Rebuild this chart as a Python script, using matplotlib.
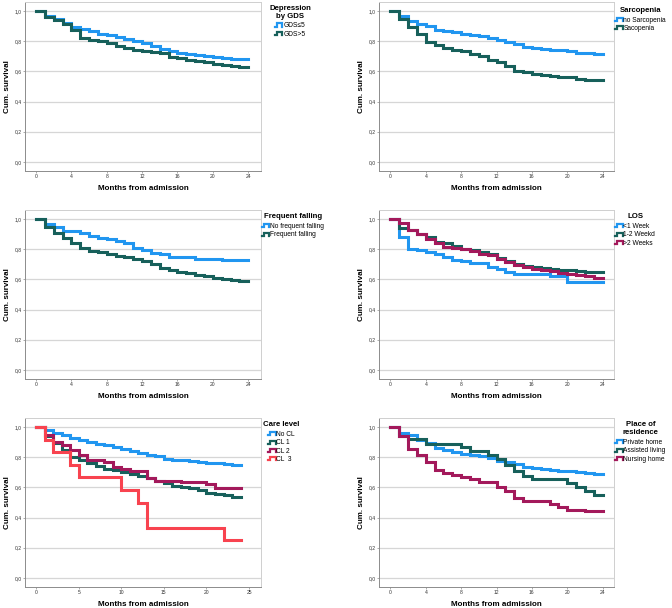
import numpy as np
import matplotlib

matplotlib.use("Agg")
import matplotlib.pyplot as plt
from matplotlib.legend_handler import HandlerBase
from matplotlib.lines import Line2D

plt.rcParams["font.family"] = ["Liberation Sans", "DejaVu Sans"]

# survival value held from month m to m+1 (m = 0..23), curves end at 24
gds_le5 = [1.0, 0.97, 0.945, 0.92, 0.895, 0.88, 0.865, 0.85, 0.84, 0.83, 0.815, 0.80,
           0.785, 0.77, 0.75, 0.735, 0.725, 0.717, 0.708, 0.70, 0.695, 0.688, 0.684, 0.684]
gds_gt5 = [1.0, 0.96, 0.94, 0.915, 0.875, 0.82, 0.81, 0.80, 0.79, 0.768, 0.757, 0.745,
           0.737, 0.726, 0.724, 0.697, 0.688, 0.678, 0.668, 0.66, 0.65, 0.64, 0.635, 0.63]

sarc_no = [1.0, 0.965, 0.934, 0.916, 0.90, 0.876, 0.865, 0.858, 0.85, 0.84, 0.832, 0.823,
           0.81, 0.795, 0.783, 0.76, 0.754, 0.748, 0.743, 0.74, 0.733, 0.724, 0.72, 0.717]
sarc_yes = [1.0, 0.95, 0.894, 0.85, 0.794, 0.772, 0.754, 0.745, 0.735, 0.717, 0.70, 0.677,
            0.66, 0.633, 0.606, 0.595, 0.584, 0.575, 0.57, 0.566, 0.56, 0.552, 0.546, 0.544]

fall_no = [1.0, 0.97, 0.95, 0.922, 0.922, 0.905, 0.89, 0.875, 0.865, 0.853, 0.838, 0.81,
           0.793, 0.776, 0.767, 0.75, 0.75, 0.75, 0.738, 0.738, 0.738, 0.73, 0.73, 0.73]
fall_yes = [1.0, 0.95, 0.91, 0.875, 0.838, 0.81, 0.79, 0.782, 0.77, 0.758, 0.75, 0.738,
            0.722, 0.70, 0.676, 0.66, 0.649, 0.64, 0.631, 0.62, 0.609, 0.602, 0.593, 0.589]

los_lt1 = [1.0, 0.882, 0.804, 0.793, 0.782, 0.77, 0.75, 0.73, 0.72, 0.71, 0.71, 0.682,
           0.667, 0.647, 0.633, 0.633, 0.633, 0.633, 0.62, 0.62, 0.582, 0.582, 0.582, 0.582]
los_1to2 = [1.0, 0.944, 0.93, 0.904, 0.878, 0.85, 0.838, 0.822, 0.804, 0.793, 0.782, 0.767,
            0.744, 0.722, 0.704, 0.689, 0.682, 0.676, 0.671, 0.664, 0.66, 0.656, 0.651, 0.651]
los_gt2 = [1.0, 0.976, 0.93, 0.90, 0.865, 0.838, 0.816, 0.81, 0.80, 0.787, 0.77, 0.76,
           0.738, 0.716, 0.693, 0.682, 0.671, 0.66, 0.653, 0.642, 0.633, 0.627, 0.62, 0.609]

care_none = [1.0, 0.978, 0.962, 0.945, 0.93, 0.912, 0.90, 0.89, 0.878, 0.867, 0.854, 0.84,
             0.828, 0.816, 0.805, 0.79, 0.783, 0.779, 0.772, 0.768, 0.763, 0.76, 0.754, 0.748]
care_cl1 = [1.0, 0.94, 0.895, 0.845, 0.80, 0.78, 0.76, 0.74, 0.723, 0.716, 0.705, 0.69,
            0.678, 0.66, 0.645, 0.628, 0.612, 0.60, 0.593, 0.583, 0.562, 0.558, 0.55, 0.537]
care_cl2 = [1.0, 0.945, 0.90, 0.878, 0.845, 0.812, 0.779, 0.779, 0.768, 0.735, 0.723, 0.712,
            0.712, 0.66, 0.645, 0.645, 0.645, 0.635, 0.635, 0.635, 0.62, 0.597, 0.597, 0.597]
care_cl3 = [1.0, 0.917, 0.833, 0.833, 0.75, 0.667, 0.667, 0.667, 0.667, 0.667, 0.583, 0.583,
            0.50, 0.333, 0.333, 0.333, 0.333, 0.333, 0.333, 0.333, 0.333, 0.333, 0.25, 0.25]

res_private = [1.0, 0.962, 0.945, 0.916, 0.894, 0.862, 0.845, 0.834, 0.822, 0.812, 0.805, 0.795,
               0.778, 0.767, 0.756, 0.738, 0.727, 0.72, 0.716, 0.712, 0.707, 0.70, 0.694, 0.688]
res_assisted = [1.0, 0.94, 0.92, 0.92, 0.89, 0.89, 0.89, 0.89, 0.868, 0.84, 0.84, 0.813,
                0.785, 0.748, 0.71, 0.674, 0.655, 0.655, 0.655, 0.655, 0.63, 0.60, 0.578, 0.55]
res_nursing = [1.0, 0.938, 0.856, 0.818, 0.767, 0.716, 0.694, 0.683, 0.672, 0.657, 0.633, 0.633,
               0.604, 0.573, 0.533, 0.51, 0.51, 0.51, 0.493, 0.467, 0.45, 0.45, 0.442, 0.442]

xticks_4 = [0, 4, 8, 12, 16, 20, 24]
xticks_5 = [0, 5, 10, 15, 20, 25]
yticks = [0.0, 0.2, 0.4, 0.6, 0.8, 1.0]

BLUE = "#2196F0"
TEAL = "#17605B"
MAROON = "#A3195B"
RED = "#F8434F"

W, H = 672, 608

# pixel boxes (left, top, right, bottom), legend anchor in axes coords
panels = [
    ((25, 2, 261, 171), "Depression\nby GDS", xticks_4, (-1.25, 25.45), (1.035, 0.985),
     [("GDS\u22645", gds_le5, BLUE), ("GDS>5", gds_gt5, TEAL)]),
    ((379, 2, 614, 171), "Sarcopenia", xticks_4, (-1.3, 25.3), (1.006, 0.97),
     [("no Sarcopenia", sarc_no, BLUE), ("Sacopenia", sarc_yes, TEAL)]),
    ((25, 210, 261, 379), "Frequent falling", xticks_4, (-1.25, 25.45), (1.004, 0.98),
     [("No frequent falling", fall_no, BLUE), ("Frequent falling", fall_yes, TEAL)]),
    ((379, 210, 614, 379), "LOS", xticks_4, (-1.3, 25.3), (1.006, 0.98),
     [("<1 Week", los_lt1, BLUE), ("1-2 Weekd", los_1to2, TEAL), (">2 Weeks", los_gt2, MAROON)]),
    ((25, 418, 261, 587), "Care level", xticks_5, (-1.3, 26.4), (1.01, 0.98),
     [("No CL", care_none, BLUE), ("CL 1", care_cl1, TEAL), ("CL 2", care_cl2, MAROON),
      ("CL  3", care_cl3, RED)]),
    ((379, 418, 614, 587), "Place of\nresidence", xticks_4, (-1.3, 25.3), (1.006, 0.98),
     [("Private home", res_private, BLUE), ("Assisted living", res_assisted, TEAL),
      ("Nursing home", res_nursing, MAROON)]),
]


class StepHandler(HandlerBase):
    def create_artists(self, legend, orig_handle, xdescent, ydescent, width, height, fontsize, trans):
        xs = np.array([0.0, 0.25, 0.25, 1.0, 1.0]) * width - xdescent
        ys = np.array([0.15, 0.15, 0.85, 0.85, 0.15]) * height - ydescent
        ln = Line2D(xs, ys, color=orig_handle.get_color(), lw=1.6, solid_joinstyle="miter")
        ln.set_transform(trans)
        return [ln]


fig = plt.figure(figsize=(W / 100, H / 100), dpi=100)

for box, title, xt, xl, anchor, series in panels:
    l, t, r, b = box
    ax = fig.add_axes([l / W, 1 - b / H, (r - l) / W, (b - t) / H])
    handles = []
    for lab, vals, col in series:
        xs = list(range(len(vals))) + [len(vals)]
        ys = list(vals) + [vals[-1]]
        h, = ax.plot(xs, ys, drawstyle="steps-post", color=col, lw=2.2,
                     solid_joinstyle="miter", label=lab, zorder=3)
        handles.append(h)
    ax.set_xlim(*xl)
    ax.set_ylim(-0.06, 1.06)
    ax.set_xticks(xt)
    ax.set_xticklabels([str(v) for v in xt])
    ax.set_yticks(yticks)
    ax.set_yticklabels([f"{v:.1f}".replace(".", ",") for v in yticks])
    ax.grid(axis="y", color="#D6D6D6", lw=0.9)
    ax.set_axisbelow(True)
    ax.tick_params(labelsize=3.6, colors="#8a8a8a", labelcolor="#333333",
                   length=1.5, width=0.5, pad=0.8)
    for side in ["left", "bottom"]:
        ax.spines[side].set_color("#8c8c8c")
        ax.spines[side].set_linewidth(0.7)
    for side in ["top", "right"]:
        ax.spines[side].set_color("#cfcfcf")
        ax.spines[side].set_linewidth(0.7)
    ax.set_xlabel("Months from admission", fontsize=5.8, fontweight="bold", labelpad=4)
    ax.set_ylabel("Cum. survival", fontsize=5.8, fontweight="bold", labelpad=3)
    leg = ax.legend(handles=handles, title=title, loc="upper left", bbox_to_anchor=anchor,
                    frameon=False, fontsize=4.8, handlelength=1.1, handletextpad=0.1,
                    labelspacing=0.2, borderpad=0, borderaxespad=0,
                    handler_map={Line2D: StepHandler()},
                    title_fontproperties={"weight": "bold", "size": 5.6})
    leg.get_title().set_multialignment("center")
    leg._legend_box.sep = 2

fig.savefig("out.png", dpi=100)
